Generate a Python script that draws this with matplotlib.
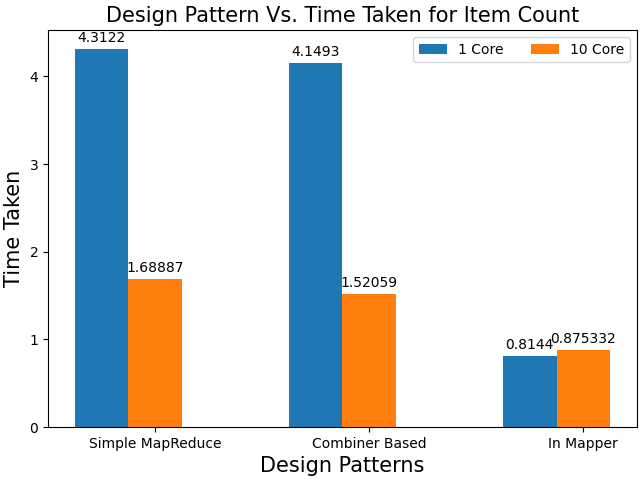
import numpy as np
import matplotlib.pyplot as plt

patterns = ['Simple MapReduce', 'Combiner Based', 'In Mapper']
one_core = [4.3122, 4.1493, 0.8144]
ten_core = [1.68887, 1.52059, 0.875332]

x = np.arange(len(patterns))
w = 0.25

fig, ax = plt.subplots(figsize=(6.4, 4.8), dpi=100)
b1 = ax.bar(x, one_core, w, label='1 Core')
b2 = ax.bar(x + w, ten_core, w, label='10 Core')
ax.bar_label(b1, labels=[str(v) for v in one_core], padding=3)
ax.bar_label(b2, labels=[str(v) for v in ten_core], padding=3)

ax.set_xticks(x + w)
ax.set_xticklabels(patterns)
ax.set_xlabel('Design Patterns', fontsize=15)
ax.set_ylabel('Time Taken', fontsize=15)
ax.set_title('Design Pattern Vs. Time Taken for Item Count', fontsize=15)
ax.legend(loc='upper right', ncol=2)

# axes box placed to match the reference
fig.subplots_adjust(left=0.075, right=0.995, bottom=0.11, top=0.9375)
plt.savefig('out.png')
